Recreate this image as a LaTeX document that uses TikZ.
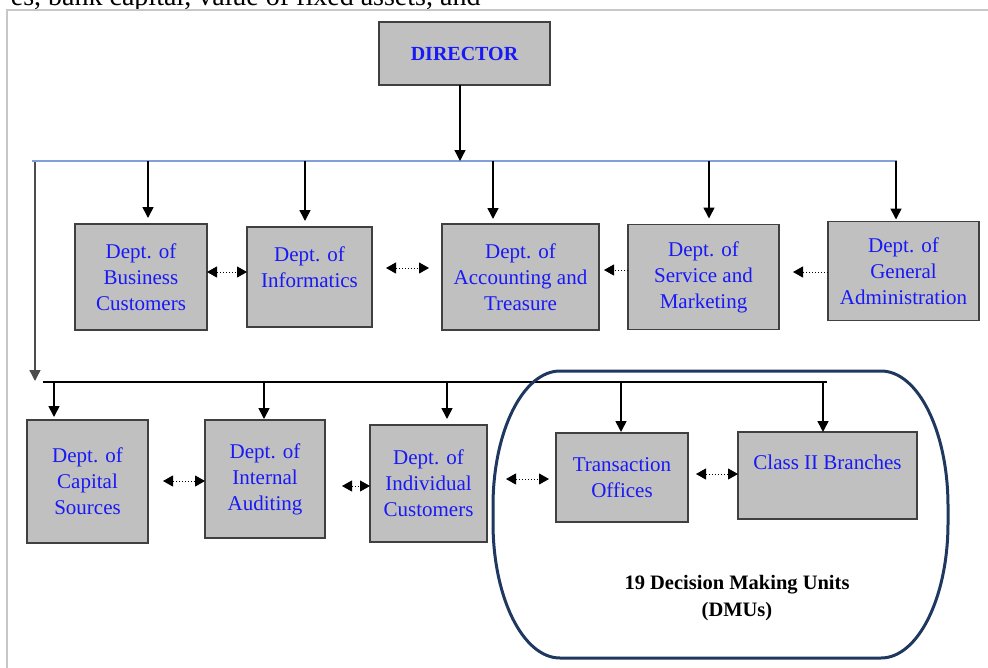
\documentclass[tikz,border=0pt]{standalone}
\usepackage{fontspec}
\setmainfont{Liberation Serif}
\usepackage{xcolor}
\usetikzlibrary{arrows.meta, positioning}
\definecolor{boxgray}{RGB}{192,192,192}
\definecolor{busblue}{RGB}{130,160,215}
\definecolor{dmunavy}{RGB}{31,56,96}
\definecolor{deptblue}{RGB}{25,25,245}

\begin{document}
\begin{tikzpicture}[
  x=1pt, y=-1pt,
  box/.style={draw=black!75,line width=1.5pt,fill=boxgray,outer sep=0pt,inner sep=0pt,
              align=center,text=deptblue,font=\fontsize{21}{26}\selectfont},
  drop/.style={-{Triangle[width=11pt,length=11pt]},line width=1.6pt,draw=black},
  link/.style={{Triangle[width=11pt,length=10pt]}-{Triangle[width=11pt,length=10pt]},
               dotted,line width=1pt},
  linkone/.style={-{Triangle[width=11pt,length=10pt]},dotted,line width=1pt},
]
\useasboundingbox (0,0) rectangle (988,667);
\clip (0,0) rectangle (988,667);

\node[anchor=base east, font=\fontsize{28}{34}\selectfont] (cap) at (484,5)
  {es, bank capital, value of fixed assets, and};
\draw[black!22, line width=2pt] (7,700) -- (7,10) -- (1000,10);

\node[box, minimum width=171, minimum height=63,
      font=\bfseries\fontsize{20}{24}\selectfont] (dir) at (464.5,53.5) {DIRECTOR};

\coordinate (busL) at (32,161);
\coordinate (busR) at (897,161);
\draw[busblue, line width=1.2pt] (busL) -- (busR);
\draw[drop, line width=1.3pt] (460,0 |- dir.south) -- (460,0 |- busL);

\node[box, minimum width=132, minimum height=106] (bc) at (141,277) {Dept. of\\Business\\Customers};
\node[box, minimum width=125, minimum height=100, right=40pt of bc] (inf) {Dept. of\\Informatics\\[-6pt]\mbox{}};
\node[box, minimum width=157, minimum height=106, right=70pt of inf] (acc) {Dept. of\\Accounting and\\Treasure};
\node[box, minimum width=151, minimum height=105, right=29pt of acc] (sm) {Dept. of\\Service and\\Marketing};
\node[box, minimum width=151, minimum height=99, right=49pt of sm, yshift=6pt] (ga) {Dept. of\\General\\Administration};

\foreach \x/\n/\s in {148/bc/6, 305/inf/6, 493/acc/5, 709/sm/6, 896/ga/2}
  \draw[drop, shorten >=\s pt] (\x,0 |- busL) -- (\x,0 |- \n.north);

\draw[link] (bc.east |- 0,272) -- (inf.west |- 0,272);
\draw[link, shorten <=14pt, shorten >=13pt] (inf.east |- 0,268) -- (acc.west |- 0,268);
\draw[linkone, shorten >=5pt] (sm.west |- 0,270) -- (acc.east |- 0,270);
\draw[linkone, shorten >=14pt] (ga.west |- 0,272) -- (sm.east |- 0,272);

\coordinate (tap) at (35,162);
\coordinate (turn) at (35,381);
\draw[drop, draw=black!70, line width=1.4pt] (tap) -- (turn);

\coordinate (bus2L) at (43,382);
\coordinate (bus2R) at (827,382);
\draw[line width=1.3pt] (bus2L) -- (bus2R);

\draw[dmunavy, line width=3pt] (560,371) -- (881,371)
  arc[start angle=-90, end angle=0, x radius=67, y radius=135] -- (948,523)
  arc[start angle=0, end angle=90, x radius=67, y radius=135] -- (560,658)
  arc[start angle=90, end angle=180, x radius=67, y radius=135] -- (493,506)
  arc[start angle=180, end angle=270, x radius=67, y radius=135] -- cycle;

\node[box, minimum width=121, minimum height=123] (cs) at (87.5,481.5) {Dept. of\\Capital\\Sources};
\node[box, minimum width=120, minimum height=118, right=57pt of cs, yshift=2.5pt] (ia) {Dept. of\\Internal\\Auditing};
\node[box, minimum width=117, minimum height=117, right=45pt of ia, yshift=-4.5pt] (ic) {Dept. of\\Individual\\Customers};
\node[box, minimum width=132, minimum height=89, right=69pt of ic, yshift=6pt] (tro) {Transaction\\Offices};
\node[box, minimum width=179, minimum height=87, right=50pt of tro, yshift=2pt] (cb) {Class II Branches\\\mbox{}};

\foreach \x/\n/\s in {54/cs/3, 264/ia/1, 447/ic/6, 621/tro/1, 823/cb/0}
  \draw[drop, shorten >=\s pt] (\x,0 |- bus2L) -- (\x,0 |- \n.north);

\draw[link, shorten <=15pt] (cs.east |- 0,481) -- (ia.west |- 0,481);
\draw[link, shorten <=17pt] (ia.east |- 0,486) -- (ic.west |- 0,486);
\draw[link, shorten <=19pt, shorten >=7pt] (ic.east |- 0,479) -- (tro.west |- 0,479);
\draw[link, shorten <=8pt] (tro.east |- 0,474) -- (cb.west |- 0,474);

\node[font=\bfseries\fontsize{20.5}{27}\selectfont, align=center] (dmu) at (737,598)
  {19 Decision Making Units\\(DMUs)};
\end{tikzpicture}
\end{document}
